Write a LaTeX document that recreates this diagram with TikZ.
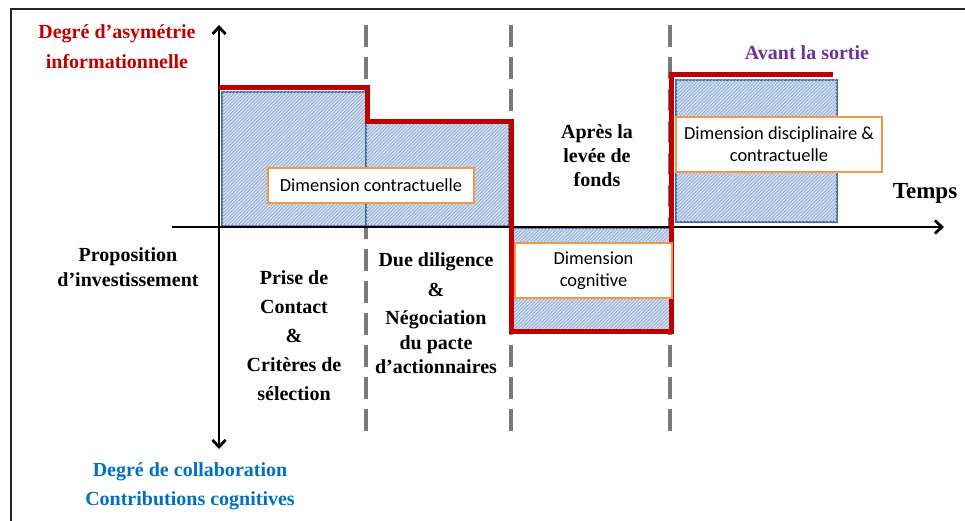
\documentclass[tikz,border=0pt]{standalone}
\usepackage{fontspec}
\setmainfont{Liberation Serif}
\newfontfamily\boxfont{Carlito}
\usetikzlibrary{arrows.meta,patterns.meta}
\definecolor{darkred}{HTML}{C00000}
\definecolor{purp}{HTML}{7030A0}
\definecolor{lblue}{HTML}{0070C0}
\definecolor{hatchbg}{HTML}{D3DFEF}
\definecolor{hatchfg}{HTML}{93AED6}
\definecolor{rectedge}{HTML}{4A6C9B}
\definecolor{orangeedge}{HTML}{F79646}
\definecolor{dashgray}{HTML}{7A7A7A}
\begin{document}
\begin{tikzpicture}[x=1pt,y=-1pt,
  lbl/.style={font=\bfseries\fontsize{20}{29}\selectfont, align=center, inner sep=0pt},
  dimbox/.style={draw=orangeedge, line width=1.6pt, fill=white, align=center, inner sep=0pt,
     font=\boxfont\fontsize{18.4}{22}\selectfont},
  hatched/.style={fill=hatchbg, postaction={pattern={Lines[angle=45,distance=2.4pt,line width=0.8pt]}, pattern color=hatchfg}, draw=rectedge, line width=1.2pt},
  phase/.style={draw=dashgray, line width=3.2pt, dash pattern=on 22pt off 10pt},
  axis/.style={line width=2.8pt, draw=black, arrows={-Straight Barb[length=7pt,width=13pt,line width=2.8pt]}},
  redline/.style={draw=darkred, line width=5pt, line join=miter}]
\useasboundingbox (0,0) rectangle (965,521);
% outer frame (only top and left visible)
\draw[line width=2.2pt, black!85] (11,530) -- (11,9) -- (975,9);
% coordinates
\coordinate (ytop) at (219,25);
\coordinate (ybot) at (219,449);
\coordinate (xleft) at (172,227);
\coordinate (xright) at (944,227);
\coordinate (d1t) at (366,25); \coordinate (d1b) at (366,435);
\coordinate (d2t) at (511,25); \coordinate (d2b) at (511,435);
\coordinate (d3t) at (670,25); \coordinate (d3b) at (670,435);
% phase separators
\draw[phase] (d1t) -- (d1b);
\draw[phase] (d2t) -- (d2b);
\draw[phase] (d3t) -- (d3b);
% hatched rectangles
\path[hatched] (222,92) rectangle (366,226);
\path[hatched] (366,123) rectangle (509,226);
\path[hatched] (513,228) rectangle (670,330);
\path[hatched] (676,80) rectangle (837,222);
% axes
\draw[axis, arrows={Straight Barb[length=7pt,width=13pt,line width=2.8pt]-Straight Barb[length=7pt,width=13pt,line width=2.8pt]}] (ytop) -- (ybot);
\draw[axis] (xleft) -- (xright);
% red curve
\draw[redline] (219,88) -- (367,88) -- (367,122) -- (511,122) -- (511,331) -- (671,331) -- (671,75) -- (833,75);
% dimension boxes
\node[dimbox, minimum width=206pt, minimum height=35pt] (bc) at (371,185.5) {Dimension contractuelle};
\node[dimbox, minimum width=157pt, minimum height=55pt] (bg) at (593.5,270.5) {Dimension\\cognitive};
\node[dimbox, minimum width=206pt, minimum height=55pt] (bd) at (779,144.5) {Dimension disciplinaire \&\\contractuelle};
% labels
\node[lbl, text=darkred, font=\bfseries\fontsize{20}{30}\selectfont] (yt) at (117,47) {Degré d’asymétrie\\informationnelle};
\node[lbl, text=purp] (avs) at (807,53) {Avant la sortie};
\node[lbl, font=\bfseries\fontsize{20}{24}\selectfont] (apl) at (597,156) {Après la\\levée de\\fonds};
\node[lbl, font=\bfseries\fontsize{23}{28}\selectfont] (tps) at (925,193) {Temps};
\node[lbl, font=\bfseries\fontsize{20}{25}\selectfont] (prop) at (128,267.5) {Proposition\\d’investissement};
\node[lbl] (prise) at (294,336) {Prise de\\Contact\\\&\\Critères de\\sélection};
\node[lbl, font=\bfseries\fontsize{20}{24}\selectfont] (due) at (436,313.5) {Due diligence\\[6pt]\&\\[4pt]Négociation\\[1pt]du pacte\\d’actionnaires};
\node[lbl, text=lblue] (yb) at (190,486.5) {Degré de collaboration\\Contributions cognitives};
\end{tikzpicture}
\end{document}
